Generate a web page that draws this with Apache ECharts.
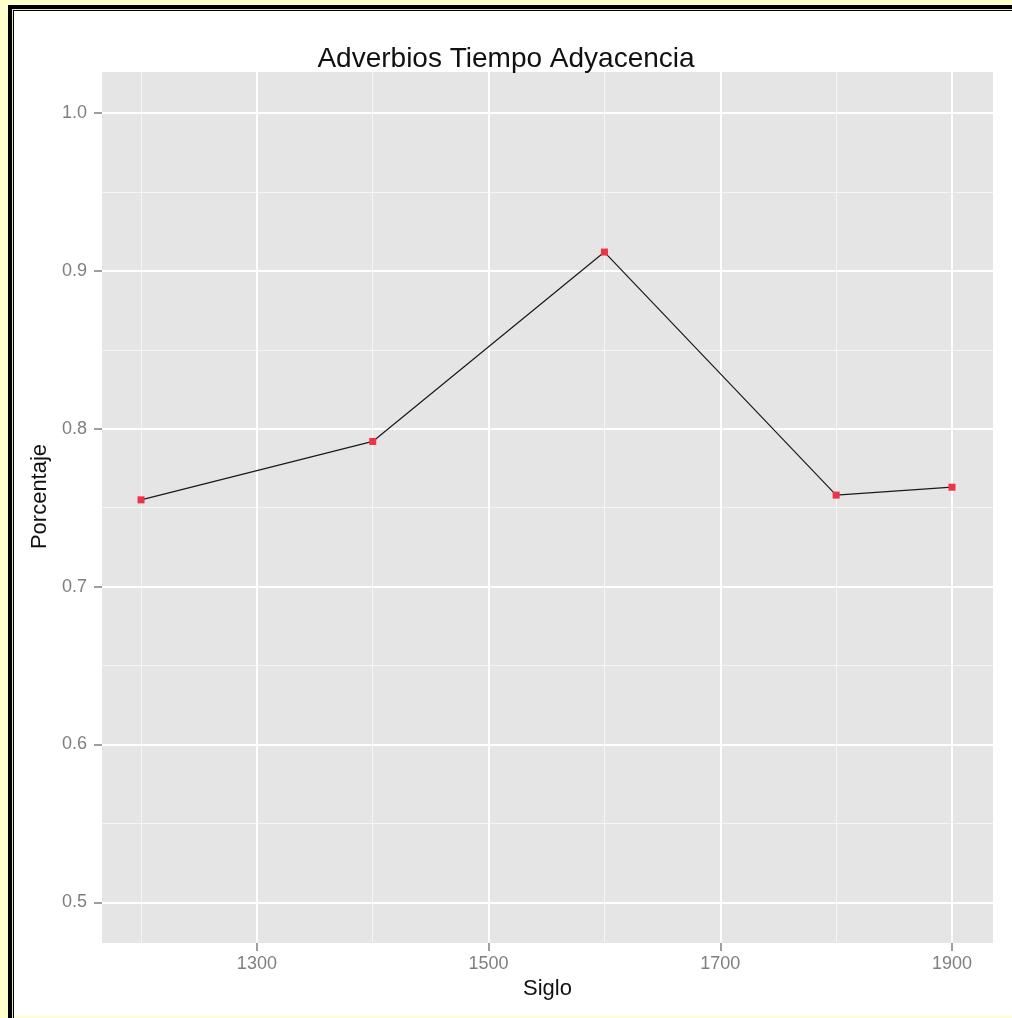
<!DOCTYPE html>
<html>
<head>
<meta charset="utf-8">
<script src="https://cdn.jsdelivr.net/npm/echarts@6/dist/echarts.min.js"></script>
<style>
  html, body { margin:0; padding:0; width:1012px; height:1018px; background:#FFFFCC; overflow:hidden; }
  .d { position:absolute; }
</style>
</head>
<body>
<div class="d" style="left:8px;top:5px;right:0;bottom:0;background:#000"></div>
<div class="d" style="left:12px;top:9px;right:0;bottom:0;background:#E6E6C4"></div>
<div class="d" style="left:13px;top:10px;right:0;bottom:0;background:#000"></div>
<div class="d" style="left:14px;top:11px;right:0;bottom:2px;background:#fff"></div>
<div class="d" style="left:14px;top:1016px;right:0;bottom:0;background:#FFFFCC"></div>
<div id="chart" class="d" style="left:0;top:0;width:1012px;height:1018px;"></div>
<script>
// ---- data ----
const years = [1200, 1400, 1600, 1800, 1900];
const porcentaje = [0.755, 0.792, 0.912, 0.758, 0.763];
const xTickValues = [1300, 1500, 1700, 1900];
const xMinorValues = [1200, 1400, 1600, 1800];
const yTickValues = [0.5, 0.6, 0.7, 0.8, 0.9, 1.0];
const yMinorValues = [0.55, 0.65, 0.75, 0.85, 0.95];
const titleText = 'Adverbios Tiempo Adyacencia';
const xName = 'Siglo';
const yName = 'Porcentaje';

const FONT = "'Liberation Sans', Arial, sans-serif";
const chart = echarts.init(document.getElementById('chart'), null, { renderer: 'canvas' });

const gridLines = [
  ...xMinorValues.map(v => ({ xAxis: v, lineStyle: { color: '#F5F5F5', width: 1, type: 'solid' } })),
  ...yMinorValues.map(v => ({ yAxis: v, lineStyle: { color: '#F5F5F5', width: 1, type: 'solid' } })),
  ...xTickValues.map(v => ({ xAxis: v, lineStyle: { color: '#FFFFFF', width: 1.8, type: 'solid' } })),
  ...yTickValues.map(v => ({ yAxis: v, lineStyle: { color: '#FFFFFF', width: 1.8, type: 'solid' } }))
];

chart.setOption({
  animation: false,
  backgroundColor: 'transparent',
  title: {
    text: titleText,
    left: 'center',
    top: 40,
    textStyle: { fontFamily: FONT, fontSize: 28, fontWeight: 'normal', color: '#111' }
  },
  grid: {
    left: 102, right: 19, top: 72, bottom: 75,
    containLabel: false,
    outerBoundsMode: 'none',
    show: true,
    backgroundColor: '#E5E5E5',
    borderWidth: 0
  },
  xAxis: {
    type: 'value',
    min: 1166.3,
    max: 1935.4,
    name: xName,
    nameLocation: 'middle',
    nameGap: 34,
    nameTextStyle: { fontFamily: FONT, fontSize: 22, color: '#111' },
    axisLine: { show: false },
    axisTick: { show: true, length: 8, customValues: xTickValues, lineStyle: { color: '#7F7F7F', width: 1.5 } },
    axisLabel: { customValues: xTickValues, fontFamily: FONT, fontSize: 18, color: '#7F7F7F', margin: 12,
      formatter: v => String(v) },
    splitLine: { show: false },
    minorSplitLine: { show: false }
  },
  yAxis: {
    type: 'value',
    min: 0.4742,
    max: 1.0261,
    name: yName,
    nameLocation: 'middle',
    nameGap: 48,
    nameTextStyle: { fontFamily: FONT, fontSize: 22, color: '#111', padding: [0, 0, 0, 22] },
    axisLine: { show: false },
    axisTick: { show: true, length: 8, customValues: yTickValues, lineStyle: { color: '#7F7F7F', width: 1.5 } },
    axisLabel: { customValues: yTickValues, fontFamily: FONT, fontSize: 18, color: '#7F7F7F', margin: 15,
      formatter: v => v.toFixed(1) },
    splitLine: { show: false },
    minorSplitLine: { show: false }
  },
  series: [
    {
      name: 'grid',
      type: 'line',
      data: [],
      z: 1,
      silent: true,
      markLine: {
        silent: true,
        animation: false,
        symbol: ['none', 'none'],
        label: { show: false },
        emphasis: { disabled: true },
        data: gridLines
      }
    },
    {
      name: yName,
      type: 'line',
      z: 5,
      data: years.map((y, i) => [y, porcentaje[i]]),
      symbol: 'rect',
      symbolSize: 7,
      showAllSymbol: true,
      itemStyle: { color: '#EE3344' },
      lineStyle: { color: '#1A1A1A', width: 1.2 }
    }
  ]
});
</script>
</body>
</html>
